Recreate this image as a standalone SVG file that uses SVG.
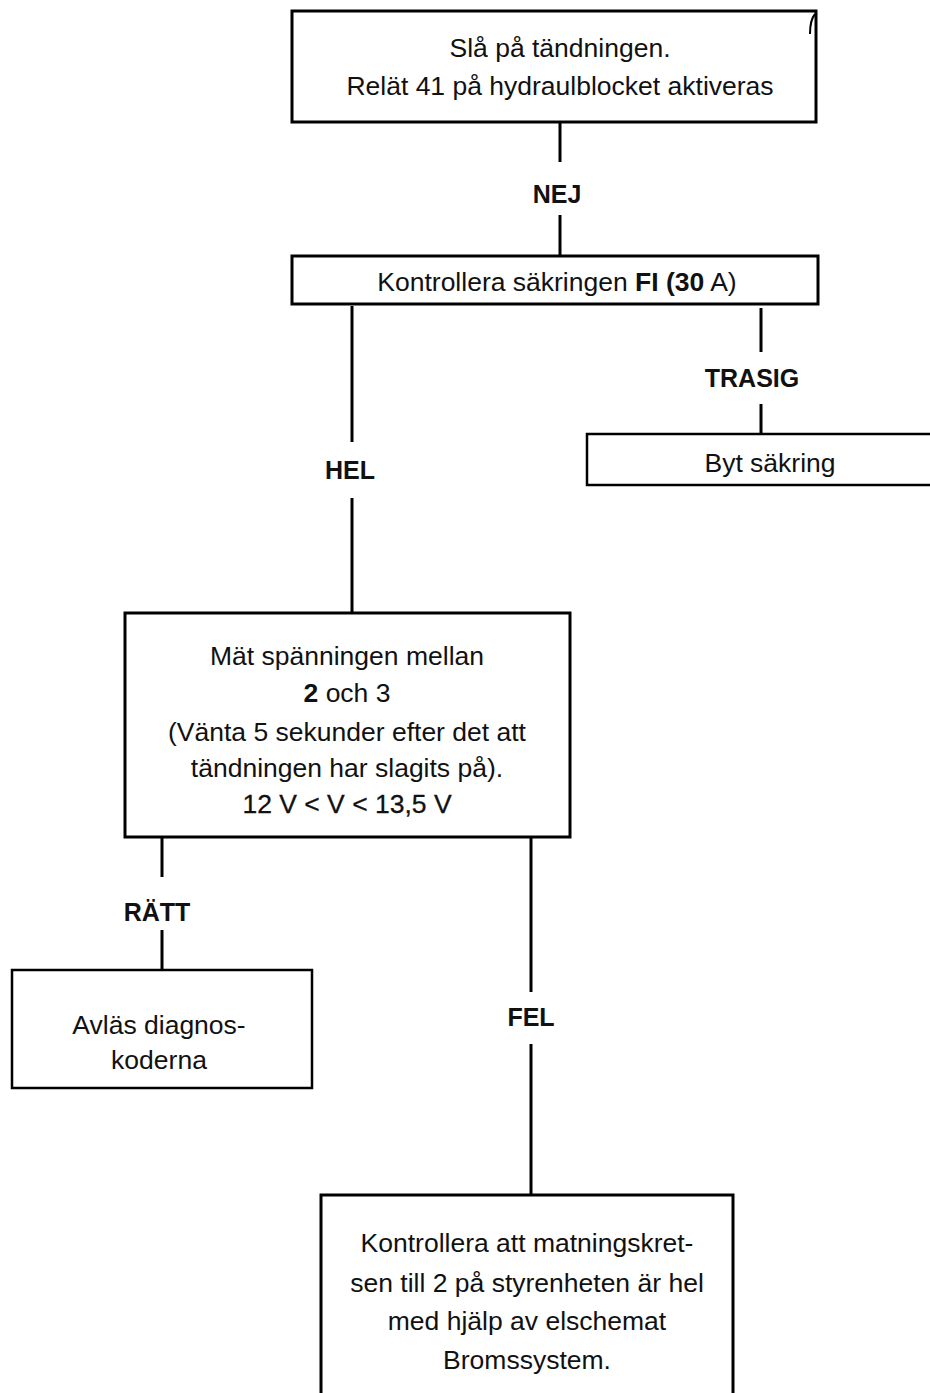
<svg xmlns="http://www.w3.org/2000/svg" width="930" height="1393" viewBox="0 0 930 1393">
<style>
.box{fill:#fff;stroke:#000;stroke-width:3}
.thin{stroke-width:2.5}
.t{font-family:"Liberation Sans",Arial,sans-serif;font-size:26.5px;fill:#111;text-anchor:middle}
.lbl{font-family:"Liberation Sans",Arial,sans-serif;font-size:25px;font-weight:bold;fill:#111;text-anchor:middle}
.c{stroke:#000;stroke-width:3;fill:none}
</style>
<rect width="930" height="1393" fill="#fff"/>
<g id="connectors">
<line class="c" x1="560" y1="122" x2="560" y2="162"/>
<line class="c" x1="560" y1="215" x2="560" y2="256"/>
<line class="c" x1="352" y1="306" x2="352" y2="442"/>
<line class="c" x1="352" y1="498" x2="352" y2="613"/>
<line class="c" x1="761" y1="308" x2="761" y2="352"/>
<line class="c" x1="761" y1="404" x2="761" y2="434"/>
<line class="c" x1="162" y1="838" x2="162" y2="877"/>
<line class="c" x1="162" y1="930" x2="162" y2="970"/>
<line class="c" x1="531" y1="838" x2="531" y2="992"/>
<line class="c" x1="531" y1="1044" x2="531" y2="1195"/>
<text class="lbl" x="557" y="203">NEJ</text>
<text class="lbl" x="350" y="479">HEL</text>
<text class="lbl" x="752" y="387">TRASIG</text>
<text class="lbl" x="157" y="921">RÄTT</text>
<text class="lbl" x="531" y="1026">FEL</text>
</g>
<g id="n1">
<rect class="box" x="292" y="11" width="524" height="111"/>
<path d="M810,34 Q810,20 815,14" stroke="#000" stroke-width="2" fill="none"/>
<text class="t" x="560" y="57">Slå på tändningen.</text>
<text class="t" x="560" y="95">Relät 41 på hydraulblocket aktiveras</text>
</g>
<g id="n2">
<rect class="box" x="292" y="256" width="526" height="48"/>
<text class="t" x="557" y="291" font-size="27">Kontrollera säkringen <tspan font-weight="bold">FI (30</tspan> A)</text>
</g>
<g id="n3">
<rect class="box thin" x="587" y="434" width="353" height="51"/>
<text class="t" x="770" y="472" font-size="25">Byt säkring</text>
</g>
<g id="n4">
<rect class="box" x="125" y="613" width="445" height="224" stroke-width="3.5"/>
<text class="t" x="347" y="665">Mät spänningen mellan</text>
<text class="t" x="347" y="702"><tspan font-weight="bold">2</tspan> och 3</text>
<text class="t" x="347" y="741">(Vänta 5 sekunder efter det att</text>
<text class="t" x="347" y="777">tändningen har slagits på).</text>
<text class="t" x="347" y="813" font-weight="500" stroke="#111" stroke-width="0.3">12 V &lt; V &lt; 13,5 V</text>
</g>
<g id="n5">
<rect class="box thin" x="12" y="970" width="300" height="118"/>
<text class="t" x="159" y="1034">Avläs diagnos-</text>
<text class="t" x="159" y="1069">koderna</text>
</g>
<g id="n6">
<path class="c" d="M321,1400 V1195 H733 V1400" fill="#fff"/>
<text class="t" x="527" y="1252">Kontrollera att matningskret-</text>
<text class="t" x="527" y="1292">sen till 2 på styrenheten är hel</text>
<text class="t" x="527" y="1330">med hjälp av elschemat</text>
<text class="t" x="527" y="1369">Bromssystem.</text>
</g>
</svg>
